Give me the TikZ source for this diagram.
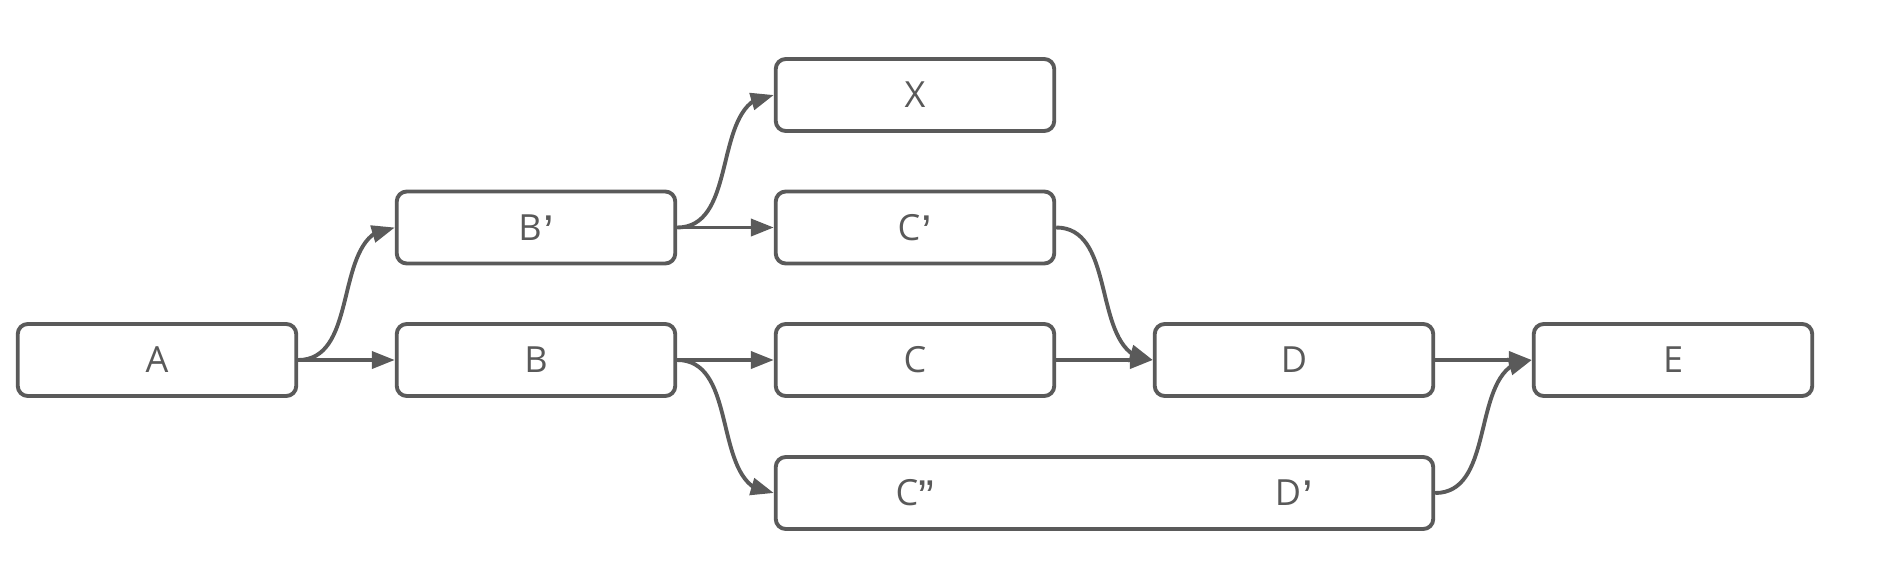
\documentclass[tikz,border=0pt]{standalone}
\usepackage{fontspec}
\setmainfont{Open Sans}
\newfontfamily\quotefont{Liberation Sans}
\usetikzlibrary{arrows.meta,bending}
\definecolor{edgegray}{HTML}{5A5A5A}
\definecolor{textgray}{HTML}{595959}
\newcommand{\quoteone}{\kern0.04em\raisebox{-4.6pt}[0pt][0pt]{\quotefont\fontsize{27}{30}\selectfont ’}}
\newcommand{\quotetwo}{\raisebox{-4.6pt}[0pt][0pt]{\quotefont\fontsize{27}{30}\selectfont ”}}

\begin{document}
\begin{tikzpicture}[
    box/.style={draw=edgegray, line width=2.2pt, rounded corners=0.2cm,
        minimum width=5.57cm, minimum height=1.44cm, inner sep=0pt,
        text=textgray, font=\fontsize{20.5}{24}\selectfont},
    lbl/.style={text=textgray, font=\fontsize{20.5}{24}\selectfont},
    arr/.style={draw=edgegray, line width=2.2pt,
        -{Triangle[length=0.46cm, width=0.34cm, flex]}}
]
    \useasboundingbox (0,0) rectangle (37.72,-11.74);

    % Main row
    \node[box] (A) at (3.14, -7.2) {A};
    \node[box] (B) at (10.72, -7.2) {B};
    \node[box] (C) at (18.30, -7.2) {C};
    \node[box] (D) at (25.88, -7.2) {D};
    \node[box] (E) at (33.46, -7.2) {E};

    % Upper branch
    \node[box] (Bp) at (10.72, -4.55) {B\quoteone};
    \node[box] (Cp) at (18.30, -4.55) {C\quoteone};
    \node[box] (X) at (18.30, -1.9) {X};

    % Lower branch (one wide box)
    \node[box, minimum width=13.15cm] (CDp) at (22.09, -9.86) {};
    \node[lbl] (Cpp) at (18.30, -9.86) {C\quotetwo};
    \node[lbl] (Dp) at (25.88, -9.86) {D\quoteone};

    % Straight edges
    \draw[arr] (A.east) -- (B.west);
    \draw[arr] (B.east) -- (C.west);
    \draw[arr] (C.east) -- (D.west);
    \draw[arr] (D.east) -- (E.west);
    \draw[arr] (Bp.east) -- (Cp.west);

    % Curved edges
    \draw[arr] (A.east) to[out=0, in=180] (Bp.west);
    \draw[arr] (Bp.east) to[out=0, in=180] (X.west);
    \draw[arr] (Cp.east) to[out=0, in=180] (D.west);
    \draw[arr] (B.east) to[out=0, in=180] (CDp.west);
    \draw[arr] (CDp.east) to[out=0, in=180] (E.west);
\end{tikzpicture}
\end{document}
